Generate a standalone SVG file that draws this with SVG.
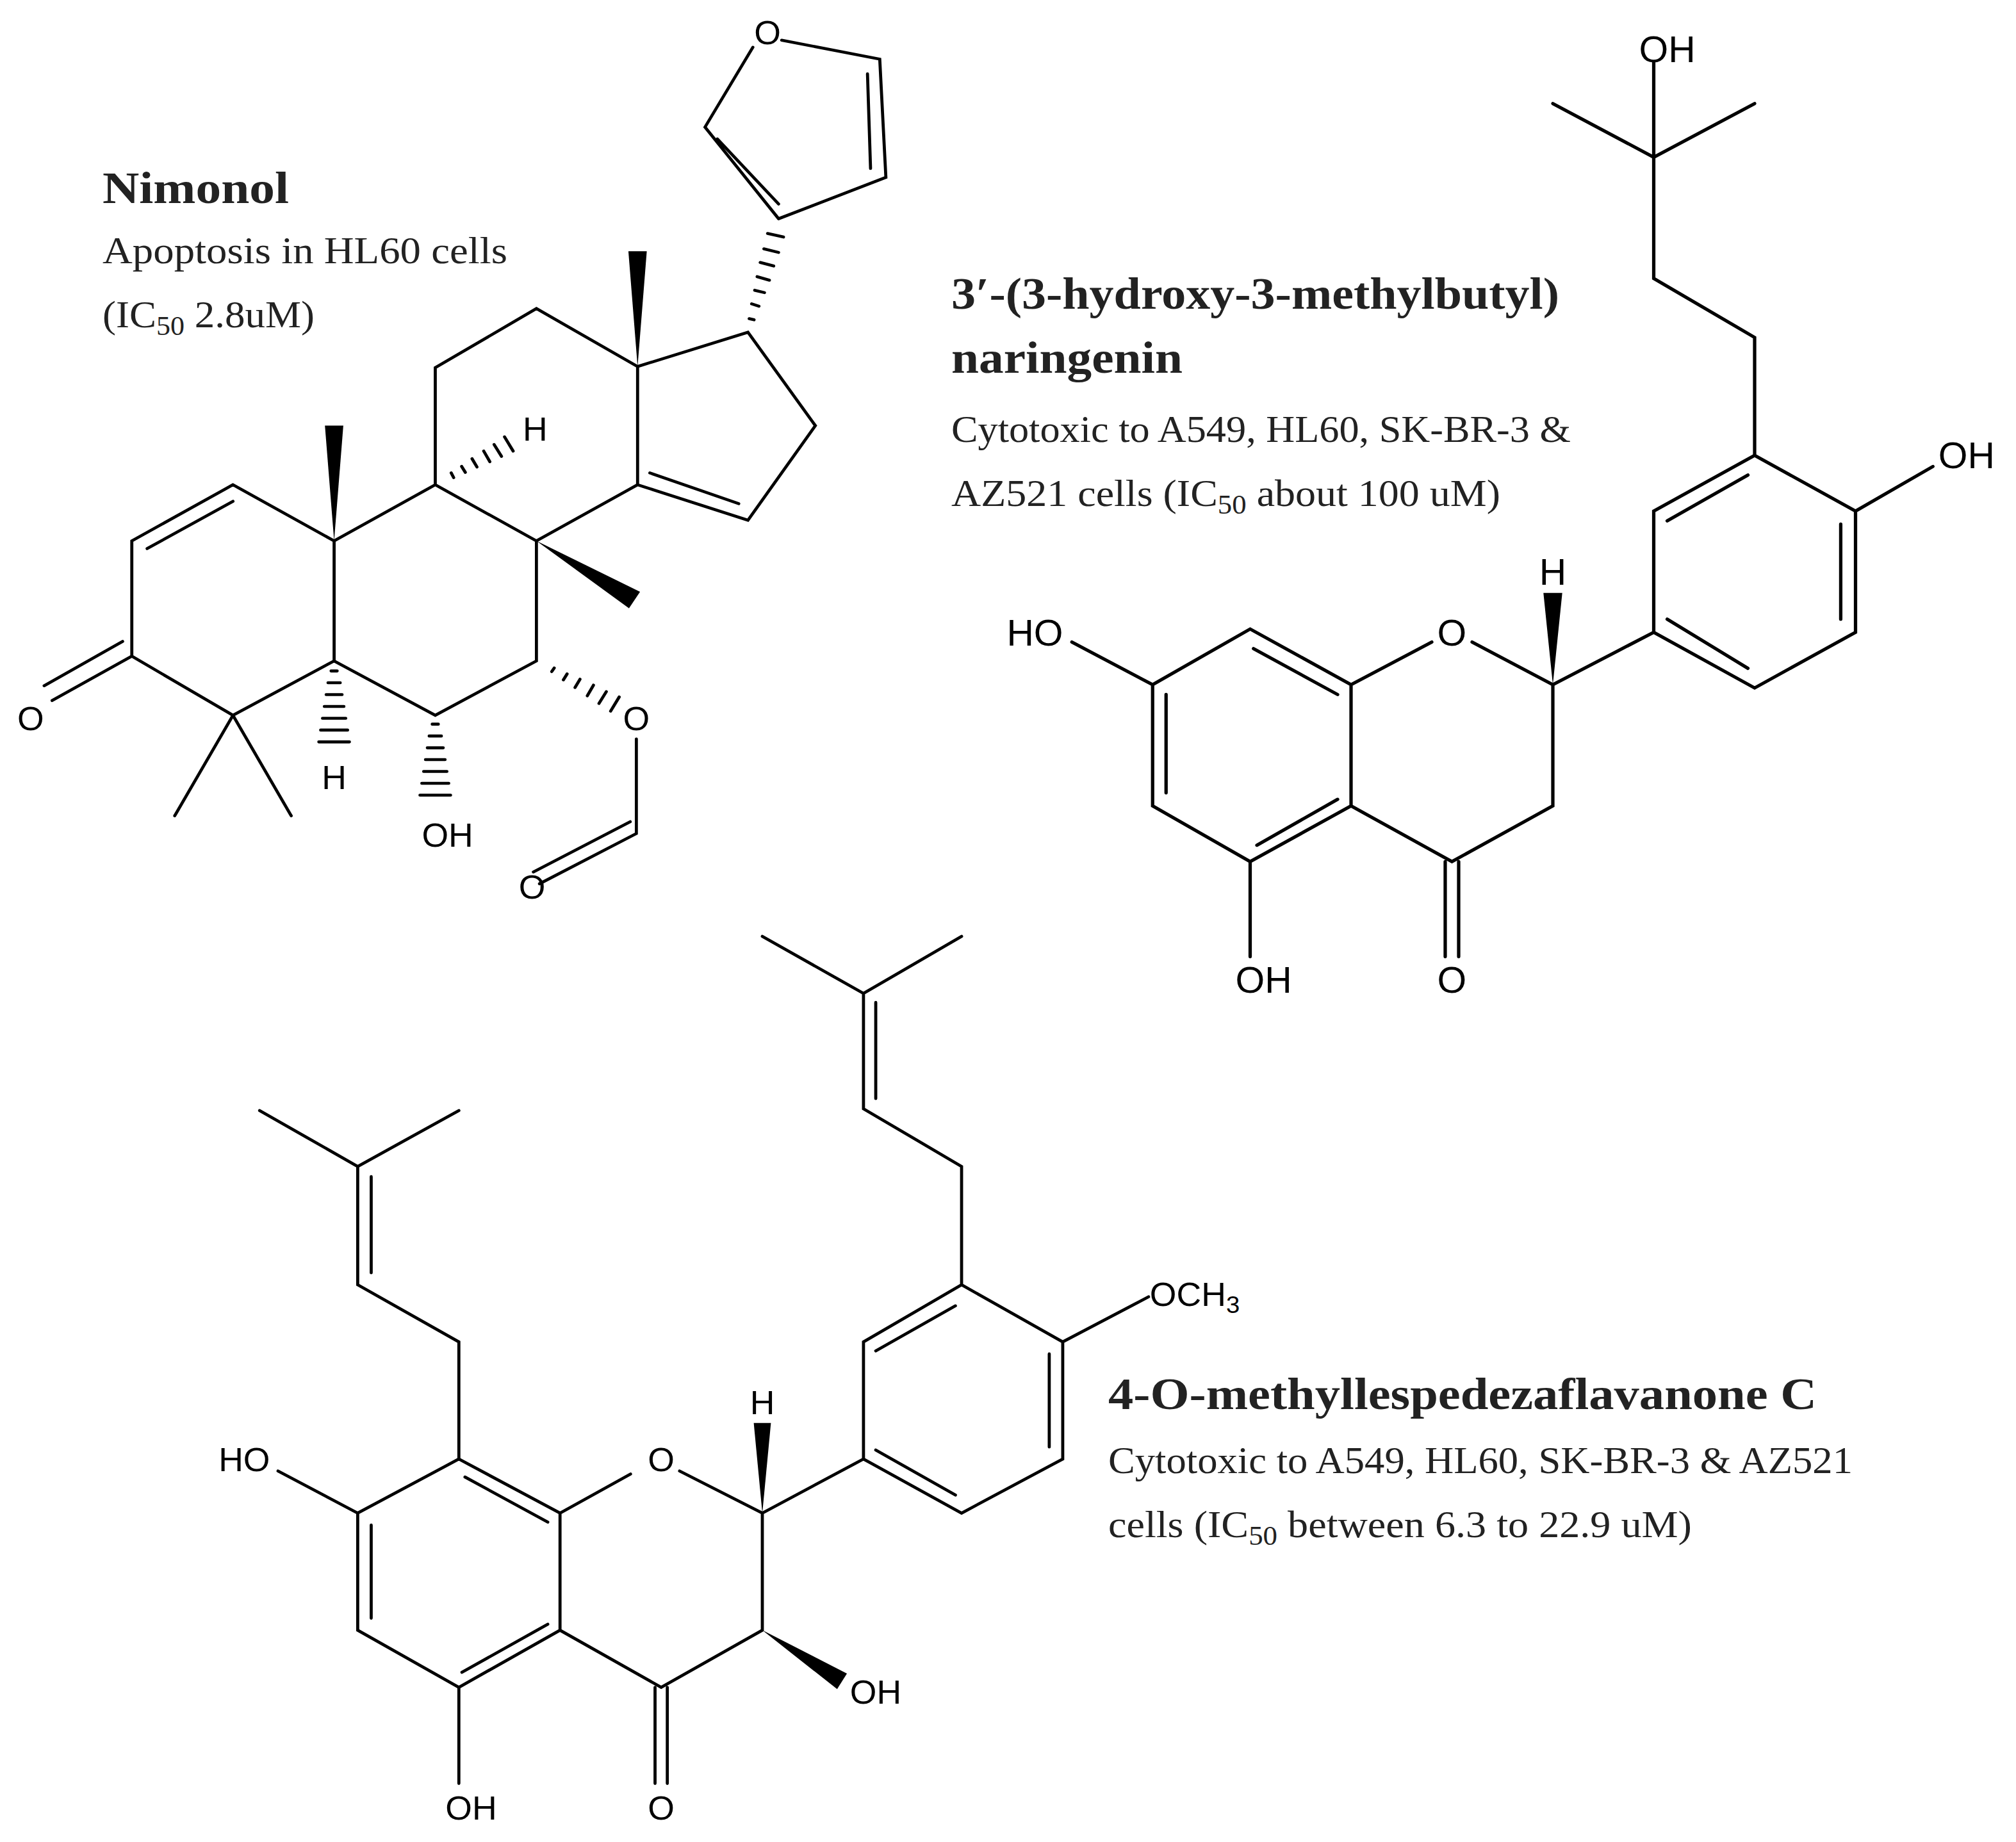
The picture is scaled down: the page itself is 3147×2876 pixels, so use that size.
<svg xmlns="http://www.w3.org/2000/svg" width="3147" height="2876" viewBox="0 0 3147 2876">
<style>
.b{stroke:#000;stroke-width:5;fill:none;stroke-linecap:round}
.w{fill:#000}
.a{font-family:"Liberation Sans",Arial,sans-serif;font-size:56px;fill:#000}
.t{font-family:"Liberation Serif","Times New Roman",serif;font-size:60px;fill:#222}
.h{font-family:"Liberation Serif","Times New Roman",serif;font-size:70px;font-weight:bold;fill:#222}
</style>
<rect width="3147" height="2876" fill="#fff"/>
<g id="nimonol-text">
<text class="h" x="160" y="317" textLength="291" lengthAdjust="spacingAndGlyphs">Nimonol</text>
<text class="t" x="160" y="411" textLength="632" lengthAdjust="spacingAndGlyphs">Apoptosis in HL60 cells</text>
<text class="t" x="160" y="511" textLength="331" lengthAdjust="spacingAndGlyphs">(IC<tspan font-size="42" dy="12">50</tspan><tspan dy="-12"> 2.8uM)</tspan></text>
</g>
<g id="nimonol" transform="scale(0.957,0.923)">
<path class="b" d="M380,820 L215,915 L215,1110 L380,1210 L545,1118 L545,915 Z M240,928 L380,848 M215,1110 L85,1185 M200,1085 L72,1160 M380,1210 L285,1380 M380,1210 L475,1380"/>
<path class="b" d="M545,915 L710,820 L875,915 L875,1118 L710,1210 L545,1118 M710,820 L710,622 L875,522 L1040,620 L1040,820 L875,915 M1040,620 L1220,562 L1330,720 L1220,880 L1040,820 M1060,800 L1205,852 M1038,1250 L1038,1410 L880,1495 M1028,1390 L870,1475"/>
<path class="b" d="M1270,370 L1150,215 L1228,80 M1275,68 L1435,100 L1445,300 L1270,370 M1170,235 L1270,345 M1415,125 L1420,285"/>
<polygon class="w" points="545,915 530,720 560,720"/>
<polygon class="w" points="1040,620 1025,425 1055,425"/>
<polygon class="w" points="875,915 1026,1029 1044,1001"/>
<path class="b" stroke-width="4" d="M540,1135h10M535,1155h20M532,1175h26M529,1195h32M526,1215h38M523,1235h44M520,1255h50M705,1225h10M700,1245h20M697,1265h26M694,1285h32M691,1305h38M688,1325h44M685,1345h50M736,800 L740,808M753,789 L759,799M770,776 L778,790M789,763 L799,781M806,752 L818,772M823,739 L837,763M904,1130 L900,1136M925,1140 L919,1150M946,1149 L938,1163M968,1159 L958,1177M989,1170 L977,1190M1010,1179 L996,1203M1222,539 L1230,541M1226,514 L1238,518M1231,491 L1247,495M1235,468 L1255,474M1240,444 L1262,450M1246,421 L1270,427M1252,395 L1278,401"/>
<text class="a" x="50" y="1235" text-anchor="middle">O</text>
<text class="a" x="545" y="1335" text-anchor="middle">H</text>
<text class="a" x="873" y="745" text-anchor="middle">H</text>
<text class="a" x="730" y="1432" text-anchor="middle">OH</text>
<text class="a" x="1038" y="1235" text-anchor="middle">O</text>
<text class="a" x="868" y="1520" text-anchor="middle">O</text>
<text class="a" x="1252" y="75" text-anchor="middle">O</text>
</g>
<g id="naringenin-text">
<text class="h" x="1485" y="482" textLength="949" lengthAdjust="spacingAndGlyphs">3′-(3-hydroxy-3-methylbutyl)</text>
<text class="h" x="1485" y="582" textLength="361" lengthAdjust="spacingAndGlyphs">naringenin</text>
<text class="t" x="1485" y="690" textLength="967" lengthAdjust="spacingAndGlyphs">Cytotoxic to A549, HL60, SK-BR-3 &amp;</text>
<text class="t" x="1485" y="790" textLength="857" lengthAdjust="spacingAndGlyphs">AZ521 cells (IC<tspan font-size="42" dy="12">50</tspan><tspan dy="-12"> about 100 uM)</tspan></text>
</g>
<g id="naringenin" transform="translate(1500,0) scale(1.05,1.023)">
<path class="b" d="M1030,95 L1030,240 M880,158 L1030,240 L1180,158 M1030,240 L1030,425 L1180,515 L1180,695 M1180,695 L1330,780 L1330,965 L1180,1050 L1030,965 L1030,780 L1180,695 M1330,780 L1445,712 M1050,795 L1170,725 M1308,800 L1308,945 M1050,945 L1170,1020 M880,1045 L1030,965"/>
<path class="b" d="M760,980 L880,1045 L880,1230 L730,1315 L580,1230 L580,1045 L700,980 M580,1045 L430,960 L285,1045 L285,1230 L430,1315 L580,1230 M285,1045 L165,980 M435,990 L560,1060 M305,1060 L305,1210 M440,1290 L560,1220 M430,1315 L430,1460 M720,1315 L720,1460 M740,1315 L740,1460"/>
<polygon class="w" points="880,1045 866,905 894,905"/>
<text class="a" x="1050" y="95" text-anchor="middle">OH</text>
<text class="a" x="1495" y="715" text-anchor="middle">OH</text>
<text class="a" x="880" y="892" text-anchor="middle">H</text>
<text class="a" x="730" y="985" text-anchor="middle">O</text>
<text class="a" x="110" y="985" text-anchor="middle">HO</text>
<text class="a" x="450" y="1515" text-anchor="middle">OH</text>
<text class="a" x="730" y="1515" text-anchor="middle">O</text>
</g>
<g id="flavanone-text">
<text class="h" x="1730" y="2200" textLength="1106" lengthAdjust="spacingAndGlyphs">4-O-methyllespedezaflavanone C</text>
<text class="t" x="1730" y="2300" textLength="1162" lengthAdjust="spacingAndGlyphs">Cytotoxic to A549, HL60, SK-BR-3 &amp; AZ521</text>
<text class="t" x="1730" y="2400" textLength="911" lengthAdjust="spacingAndGlyphs">cells (IC<tspan font-size="42" dy="12">50</tspan><tspan dy="-12"> between 6.3 to 22.9 uM)</tspan></text>
</g>
<g id="flavanone" transform="translate(300,1401) scale(0.957,0.938)">
<path class="b" d="M110,355 L270,448 L435,355 M270,448 L270,645 L435,740 L435,935 M292,465 L292,625"/>
<path class="b" d="M435,935 L600,1025 L600,1220 L435,1315 L270,1220 L270,1025 Z M270,1025 L140,955 M445,965 L580,1040 M292,1045 L292,1200 M440,1290 L580,1210 M600,1025 L715,960 M795,955 L930,1025 L930,1220 L765,1315 L600,1220 M755,1315 L755,1475 M775,1315 L775,1475 M435,1315 L435,1475 M930,1025 L1095,935"/>
<path class="b" d="M1095,935 L1095,740 L1255,645 L1420,740 L1420,935 L1255,1025 Z M1115,755 L1245,680 M1398,760 L1398,915 M1115,920 L1245,995 M1255,645 L1255,448 L1095,352 L1095,160 L930,65 M1095,160 L1255,65 M1115,175 L1115,335 M1420,740 L1560,665"/>
<polygon class="w" points="930,1025 916,875 944,875"/>
<polygon class="w" points="930,1220 1052,1318 1068,1292"/>
<text class="a" x="85" y="955" text-anchor="middle">HO</text>
<text class="a" x="765" y="955" text-anchor="middle">O</text>
<text class="a" x="930" y="860" text-anchor="middle">H</text>
<text class="a" x="1115" y="1342" text-anchor="middle">OH</text>
<text class="a" x="455" y="1535" text-anchor="middle">OH</text>
<text class="a" x="765" y="1535" text-anchor="middle">O</text>
<text class="a" x="1562" y="680">OCH<tspan font-size="40" dy="12">3</tspan></text>
</g>
</svg>
